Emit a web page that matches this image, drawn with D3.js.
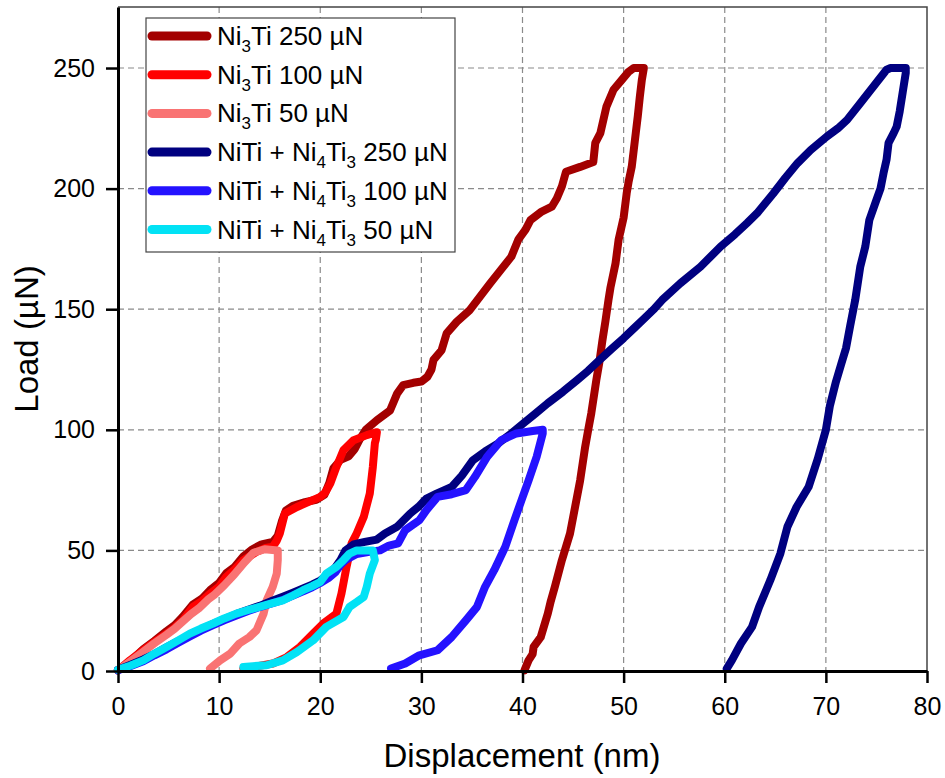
<!DOCTYPE html>
<html>
<head>
<meta charset="utf-8">
<script src="https://cdn.jsdelivr.net/npm/d3@7"></script>
<style>
  body { margin: 0; background: #fff; }
  svg { display: block; font-family: Arial, "Liberation Sans", sans-serif; }
</style>
</head>
<body>
<div id="chart"></div>
<script>
// load-displacement curves, [displacement nm, load µN]
const ni3ti250 = [[0,0.3],[1.2,4],[2.5,9],[3.6,12.5],[4.8,16.5],[5.6,19],[6.4,22.5],[7.4,27.5],[8.3,30],[9.1,33.5],[10,36.5],[10.7,40.5],[11.5,43],[12.4,47.5],[13.3,50.5],[14.2,52.5],[15.3,53.5],[15.8,56],[16.2,62],[16.6,66.5],[17.3,68.5],[18.5,70],[19.6,71],[20.4,73],[20.9,78],[21.3,84],[22,87.5],[22.8,89],[23.4,92],[23.9,96],[24.5,100],[25.6,104],[26.9,108],[27.6,115],[28.2,118.5],[29.2,119.5],[30,120],[30.6,122],[31,125],[31.2,129],[32,133],[32.5,140],[33.5,144.8],[34.8,149.7],[35.8,155.2],[36.8,160.7],[37.8,166],[38.9,171.8],[39.6,179],[40.3,183],[40.8,187],[41.9,190.5],[42.9,192.5],[43.4,196],[43.9,201],[44.3,207],[45.7,209],[47,211],[47.2,219],[47.7,223],[48.3,234],[49,241],[49.8,245],[50.5,248.5],[51,250],[52,250],
  [51.8,245],[51.6,238],[51.4,230],[51.2,223],[50.8,209],[50.5,203],[50.3,198],[50,188],[49.5,178.7],[49.2,169],[48.7,159],[48.5,153.8],[48.2,145],[47.9,137],[47.6,128],[47.3,120.6],[46.8,106.8],[46.5,100],[46.2,93],[45.7,79],[45.2,68],[44.7,57],[43.9,46],[43.2,34.9],[42.8,29],[42.5,23.8],[41.8,14],[41.1,10],[41,7],[40.6,4.4],[40.2,0.3]];

const ni3ti100 = [[0,0.3],[1.2,4.5],[2.5,8.6],[3.6,12],[4.8,15.5],[5.6,18],[6.4,21],[7.4,26.6],[8.3,29],[9.1,32.1],[10,35],[10.7,39],[11.5,42],[12.4,46],[13.7,49.4],[14.6,51],[15.3,51.5],[15.7,54],[16,57],[16.5,65.3],[17.7,68],[18.8,70],[20,72.2],[20.5,74],[21,77.8],[21.6,84.6],[22.3,91.6],[23.3,95.7],[24.6,97.8],[25.6,99],
  [25.5,96],[25.4,94.4],[25.2,84.6],[24.9,73.6],[24.3,63.9],[23.6,57],[23.1,52.9],[22.6,43.2],[22.1,32.1],[21.6,23.8],[20.3,19.7],[19.3,15.5],[18,10],[16.7,5.8],[15.3,3.1],[13.4,1.7],[12.4,1]];

const ni3ti50 = [[0,0.3],[1.2,4],[2.5,8],[3.6,11.5],[4.8,15],[5.6,17.5],[6.4,20.5],[7.2,23.5],[8,26],[9,30],[9.5,31.5],[10.5,35.5],[11.5,40],[12.5,45],[13.4,49],[14.5,50.5],[15.8,50],
  [15.8,46],[15.7,40.4],[15.3,34.9],[14.7,29.3],[14.4,23.8],[13.7,16.9],[13,14.1],[12,11.4],[11.1,7.2],[10.1,4.4],[9.1,1]];

const niti250 = [[0,0.5],[1.2,2.5],[2.5,4.8],[3.6,7],[4.8,9.8],[6,12.5],[7.1,14.8],[8.2,17.2],[9.4,19.5],[10.5,21.5],[11.7,23.6],[12.8,25.3],[14,27],[15.2,29],[16.3,30.8],[17.3,32.5],[18.3,34.2],[19.2,35.8],[20,37.5],[20.8,40],[21.5,43],[22,46],[22.5,50],[23.3,52.5],[24.4,53.5],[25.6,54.5],[26.4,57],[27.6,59.8],[28.9,65.3],[29.7,68],[30.5,71.5],[31.5,73.5],[33,76.3],[34,81],[35.1,87.4],[36.3,91],[37.6,94.4],[38.9,98.5],[40.1,102.7],[41.3,106.8],[42.5,111],[44,115.8],[45.4,120.6],[46.5,124.5],[47.5,128.5],[48.8,133.5],[50,138],[51,142],[52,146],[53,150],[53.8,153.8],[55.6,160.7],[57.6,167.6],[59.6,176],[61,181],[62.2,185.7],[63.2,189.8],[64.8,198],[66,204.5],[67.2,210.6],[68.5,216],[70.1,221.6],[71.2,225],[72.1,228.5],[73.4,235.4],[74.7,242.3],[76,249.3],[76.4,250],[77.9,250],
  [77.9,248],[77.6,240],[77.3,232],[77,225.7],[76.7,223],[76.2,219],[76,212],[75.7,206.4],[75.4,200],[75,195.3],[74.3,187],[73.9,176],[73.4,167.6],[72.9,153.8],[72.4,143],[72,134],[71.5,127],[71,120],[70.4,110],[70,100],[69.2,88],[68.3,76.4],[67.1,68],[66.2,59.8],[65.5,48.7],[64.5,37.6],[63.4,26.6],[62.7,18.3],[61.6,11.4],[60.7,4.4],[60.2,1]];

const niti100 = [[0,0.3],[1.2,2],[2.5,4],[3.6,6.5],[4.8,9],[6,11.8],[7.1,14.3],[8.2,16.7],[9.4,19],[10.5,21],[11.7,23],[12.8,24.8],[14,26.5],[15.2,28],[16.3,29.5],[17.3,31.3],[18.3,33],[19.2,34.7],[20,36.5],[20.8,38.5],[21.5,41],[22,44],[22.5,46],[23.6,48.5],[25,49.5],[25.9,50],[26.8,52],[27.7,52.9],[28.4,58.4],[29.8,62.5],[30.5,66.7],[31.6,72.2],[33,73.3],[34.4,75],[35.3,80.5],[36.5,88.8],[37.9,95.7],[39.4,98.5],[41,99.5],[42,100],
  [42,98.5],[41.4,88.8],[40.6,79],[39.9,70.8],[39.2,62.5],[38.3,51.5],[37.2,41.8],[36.3,34.9],[35.5,26.6],[34.4,21],[33,14.1],[31.6,8.6],[29.8,6.5],[28.4,3.1],[27,1]];

const niti50 = [[0,0.5],[1.2,2.2],[2.5,4.4],[3.6,7.2],[4.8,10],[6,12.8],[7.1,15.5],[8.2,17.6],[9.4,19.7],[10.5,21.8],[11.7,23.8],[12.8,25.2],[14,26.6],[15.2,28],[16.3,29.3],[17.3,31.3],[18.3,33.5],[19.2,35.2],[20,36.9],[20.6,40.4],[21.6,43.2],[22.3,46],[22.9,48.7],[23.6,50],[24.4,50],[25.2,50],
  [25.4,46],[24.9,40.4],[24.6,34.9],[24.3,30.7],[23.6,28.6],[22.9,26.6],[22.3,22.4],[20.6,18.3],[19.3,12.7],[17.7,7.9],[16.3,4.4],[14.7,2.4],[12.4,1.7]];

// legend: [main, subscript, main, subscript, rest]
const labels = [
  ['Ni', '3', 'Ti 250 µN'],
  ['Ni', '3', 'Ti 100 µN'],
  ['Ni', '3', 'Ti 50 µN'],
  ['NiTi + Ni', '4', 'Ti', '3', ' 250 µN'],
  ['NiTi + Ni', '4', 'Ti', '3', ' 100 µN'],
  ['NiTi + Ni', '4', 'Ti', '3', ' 50 µN']
];
const colors = ['#a30000', '#ff0000', '#f97373', '#000080', '#2412ff', '#02e2f5'];
const xTicks = [0, 10, 20, 30, 40, 50, 60, 70, 80];
const yTicks = [0, 50, 100, 150, 200, 250];
const series = [ni3ti250, ni3ti100, ni3ti50, niti250, niti100, niti50];

let svgDimensions = [945, 778];
let plot = {left: 118, right: 927, top: 7, bottom: 671};

let svg = d3.select('#chart')
  .append('svg')
    .attr('width', svgDimensions[0])
    .attr('height', svgDimensions[1]);

let x = d3.scaleLinear().domain([0, 80]).range([plot.left, plot.right]);
let y = d3.scaleLinear().domain([0, 275.3]).range([plot.bottom, plot.top]);

// dashed grid
svg.append('g').selectAll('line')
  .data(xTicks.slice(1, -1))
  .enter().append('line')
    .attr('x1', d => x(d)).attr('x2', d => x(d))
    .attr('y1', plot.top).attr('y2', plot.bottom)
    .attr('stroke', '#8a8a8a').attr('stroke-width', 1.2)
    .attr('stroke-dasharray', '6,4');
svg.append('g').selectAll('line')
  .data(yTicks.slice(1))
  .enter().append('line')
    .attr('y1', d => y(d)).attr('y2', d => y(d))
    .attr('x1', plot.left).attr('x2', plot.right)
    .attr('stroke', '#8a8a8a').attr('stroke-width', 1.2)
    .attr('stroke-dasharray', '6,4');

// thin frame top/right
svg.append('path')
  .attr('d', `M${plot.left},${plot.top}H${plot.right}V${plot.bottom}`)
  .attr('fill', 'none')
  .attr('stroke', '#444')
  .attr('stroke-width', 1.5);

// curves
let line = d3.line()
  .x(d => x(d[0]))
  .y(d => y(d[1]));

svg.append('g').selectAll('path')
  .data(series)
  .enter()
  .append('path')
    .attr('d', line)
    .attr('fill', 'none')
    .attr('stroke', (d, i) => colors[i])
    .attr('stroke-width', 8)
    .attr('stroke-linejoin', 'round')
    .attr('stroke-linecap', 'round');

// axes
let xAxis = svg.append('g')
  .attr('transform', `translate(0,${plot.bottom})`)
  .call(d3.axisBottom(x).tickValues(xTicks).tickSize(12).tickSizeOuter(0).tickPadding(14));
let yAxis = svg.append('g')
  .attr('transform', `translate(${plot.left},0)`)
  .call(d3.axisLeft(y).tickValues(yTicks).tickSize(12).tickSizeOuter(0).tickPadding(11));

[xAxis, yAxis].forEach(a => {
  a.select('.domain').attr('stroke', '#000').attr('stroke-width', 3);
  a.selectAll('.tick line').attr('stroke', '#000').attr('stroke-width', 2.5);
  a.selectAll('.tick text')
    .attr('fill', '#000')
    .style('font-size', '25px')
    .style('font-family', 'Arial, "Liberation Sans", sans-serif');
});

svg.append('text')
  .attr('x', 522)
  .attr('y', 767)
  .attr('text-anchor', 'middle')
  .style('font-size', '33px')
  .text('Displacement (nm)');

svg.append('text')
  .attr('transform', 'translate(38,339) rotate(-90)')
  .attr('text-anchor', 'middle')
  .style('font-size', '33px')
  .text('Load (µN)');

// legend
let legend = svg.append('g');
legend.append('rect')
  .attr('x', 146).attr('y', 18)
  .attr('width', 309).attr('height', 234)
  .attr('fill', '#fff')
  .attr('stroke', '#444')
  .attr('stroke-width', 1.2);

let rows = legend.selectAll('g.row')
  .data(labels)
  .enter()
  .append('g')
    .attr('class', 'row')
    .attr('transform', (d, i) => `translate(0,${36 + i * 38.7})`);

rows.append('line')
  .attr('x1', 152).attr('x2', 207)
  .attr('stroke', (d, i) => colors[i])
  .attr('stroke-width', 9)
  .attr('stroke-linecap', 'round');

rows.append('text')
  .attr('x', 217)
  .attr('y', 9)
  .style('font-size', '26px')
  .each(function(d) {
    let t = d3.select(this);
    d.forEach((part, j) => {
      let sub = j % 2 === 1;
      t.append('tspan')
        .attr('dy', sub ? 7 : (j > 0 ? -7 : 0))
        .style('font-size', sub ? '17px' : null)
        .text(part);
    });
  });
</script>
</body>
</html>
